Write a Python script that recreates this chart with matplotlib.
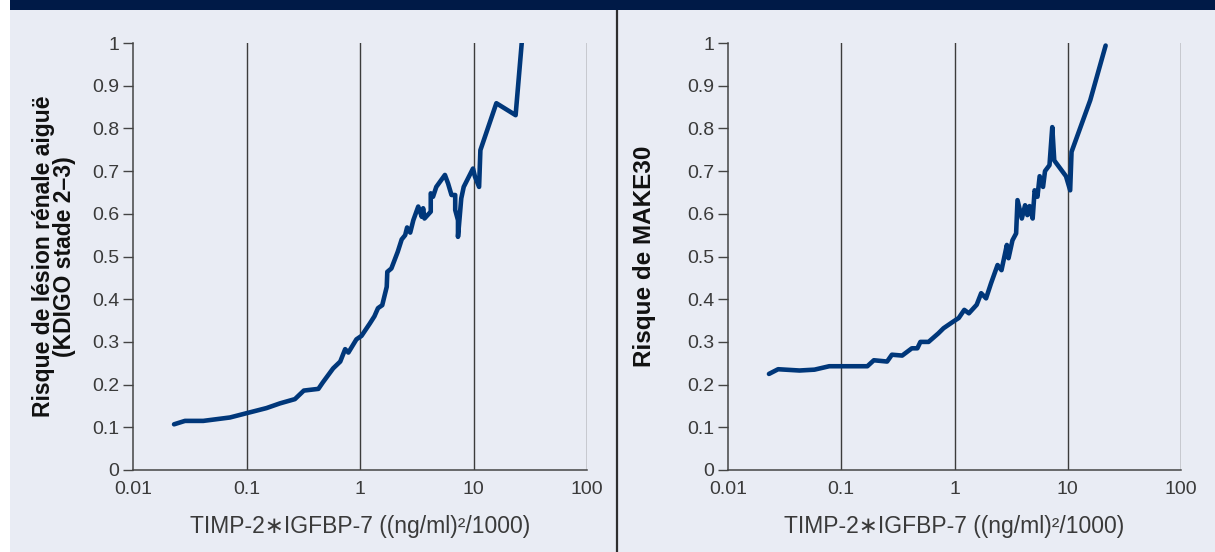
import matplotlib
matplotlib.use("Agg")
import matplotlib.pyplot as plt
from matplotlib.patches import Rectangle
from matplotlib.lines import Line2D
from matplotlib.ticker import FixedLocator, FixedFormatter, NullLocator

plt.rcParams['font.family'] = ['Liberation Sans', 'DejaVu Sans']

# ---- data ----
x_aki = [0.023, 0.0287, 0.0416, 0.0715, 0.1, 0.15, 0.197, 0.267, 0.32, 0.43, 0.47,
         0.58, 0.67, 0.74, 0.79, 0.93, 1.03, 1.22, 1.34, 1.44, 1.57, 1.72, 1.74, 1.89,
         2.15, 2.33, 2.5, 2.6, 2.77, 2.95, 3.26, 3.5, 3.6, 3.7, 4.2, 4.2, 4.4, 4.7,
         5.6, 5.97, 6.4, 6.9, 6.9, 7.3, 7.3, 7.8, 8.2, 9.9, 10.3, 11.2, 11.5, 15.9,
         23.5, 26.6]
y_aki = [0.107, 0.115, 0.115, 0.123, 0.133, 0.145, 0.156, 0.166, 0.186, 0.19, 0.205,
         0.238, 0.254, 0.283, 0.275, 0.306, 0.314, 0.343, 0.36, 0.379, 0.386, 0.429, 0.464, 0.472,
         0.511, 0.54, 0.55, 0.568, 0.556, 0.585, 0.617, 0.593, 0.613, 0.589, 0.605, 0.648, 0.64, 0.663,
         0.691, 0.671, 0.644, 0.644, 0.609, 0.585, 0.546, 0.636, 0.663, 0.706, 0.687, 0.663, 0.749, 0.859,
         0.831, 1.0]

x_make = [0.023, 0.0277, 0.0428, 0.058, 0.0783, 0.1, 0.17, 0.194, 0.254, 0.28, 0.345,
          0.42, 0.47, 0.5, 0.59, 0.72, 0.8, 0.98, 1.09, 1.22, 1.34, 1.57, 1.72, 1.9, 2.1,
          2.4, 2.6, 2.9, 3.0, 3.25, 3.5, 3.6, 3.93, 4.2, 4.4, 4.6, 4.9, 5.1, 5.4, 5.65,
          6.05, 6.3, 6.9, 7.3, 7.6, 9.65, 10.5, 10.8, 15.8, 21.6]
y_make = [0.225, 0.236, 0.233, 0.235, 0.243, 0.243, 0.243, 0.257, 0.254, 0.27, 0.268,
          0.285, 0.285, 0.3, 0.3, 0.32, 0.332, 0.348, 0.356, 0.375, 0.367, 0.387, 0.414, 0.402, 0.437,
          0.48, 0.468, 0.527, 0.496, 0.538, 0.554, 0.632, 0.589, 0.62, 0.597, 0.618, 0.589, 0.655, 0.64, 0.688,
          0.663, 0.7, 0.714, 0.803, 0.725, 0.688, 0.655, 0.745, 0.866, 0.994]

x_ticks = [0.01, 0.1, 1, 10, 100]
x_tick_labels = ["0.01", "0.1", "1", "10", "100"]
y_ticks = [0, 0.1, 0.2, 0.3, 0.4, 0.5, 0.6, 0.7, 0.8, 0.9, 1]
y_tick_labels = ["0", "0.1", "0.2", "0.3", "0.4", "0.5", "0.6", "0.7", "0.8", "0.9", "1"]

xlabel = "TIMP-2\u2217IGFBP-7 ((ng/ml)\u00b2/1000)"
ylabel_left = "Risque de lésion rénale aiguë\n(KDIGO stade 2\u20133)"
ylabel_right = "Risque de MAKE30"

# ---- style ----
W, H = 1215, 552
BG = "#E9ECF4"
BAR = "#001A47"
LINE = "#00377A"
TXT = "#3A3A3A"
GRID = "#3C3C3C"

fig = plt.figure(figsize=(W / 100, H / 100), dpi=100)
fig.patch.set_facecolor("white")
fig.patches.append(Rectangle((10 / W, 0), 1 - 10 / W, 1, transform=fig.transFigure,
                             facecolor=BG, edgecolor="none", zorder=-10))
fig.patches.append(Rectangle((10 / W, (H - 10) / H), 1 - 10 / W, 10 / H, transform=fig.transFigure,
                             facecolor=BAR, edgecolor="none", zorder=-9))
fig.lines.append(Line2D([617 / W, 617 / W], [0, (H - 10) / H], transform=fig.transFigure,
                        color="#2E2E2E", linewidth=1.6, zorder=-9))


def make_axes(left_px, right_px, xs, ys, ylab, ylab_x, ylab_size):
    ax = fig.add_axes([left_px / W, (H - 470) / H, (right_px - left_px) / W, 427 / H])
    ax.set_facecolor("none")
    ax.set_xscale("log")
    ax.set_xlim(0.01, 100)
    ax.set_ylim(0, 1)
    for gx in x_ticks[1:]:
        ax.axvline(gx, color=GRID, linewidth=1.0, zorder=1)
    ax.plot(xs, ys, color=LINE, linewidth=3.3, solid_joinstyle="round",
            solid_capstyle="round", zorder=3)
    for s in ["top", "right"]:
        ax.spines[s].set_visible(False)
    for s in ["left", "bottom"]:
        ax.spines[s].set_color("#444444")
        ax.spines[s].set_linewidth(1.1)
    ax.xaxis.set_major_locator(FixedLocator(x_ticks))
    ax.xaxis.set_major_formatter(FixedFormatter(x_tick_labels))
    ax.xaxis.set_minor_locator(NullLocator())
    ax.yaxis.set_major_locator(FixedLocator(y_ticks))
    ax.yaxis.set_major_formatter(FixedFormatter(y_tick_labels))
    ax.tick_params(axis="x", length=0, pad=8, labelsize=14, labelcolor=TXT)
    ax.tick_params(axis="y", length=7, width=1.0, color="#444444", pad=3,
                   labelsize=14, labelcolor=TXT)
    ax.set_xlabel(xlabel, fontsize=16.5, color=TXT, labelpad=12)
    ax.text(ylab_x, 0.5, ylab, transform=ax.transAxes, rotation=90, ha="center",
            va="center", fontsize=ylab_size, fontweight="bold", color="#111111",
            linespacing=0.85, multialignment="center")
    return ax


make_axes(133, 587, x_aki, y_aki, ylabel_left, (54 - 133) / 454, 16.5)
make_axes(728, 1181, x_make, y_make, ylabel_right, (645 - 728) / 453, 17.5)

fig.savefig("out.png", dpi=100, facecolor=fig.get_facecolor())
